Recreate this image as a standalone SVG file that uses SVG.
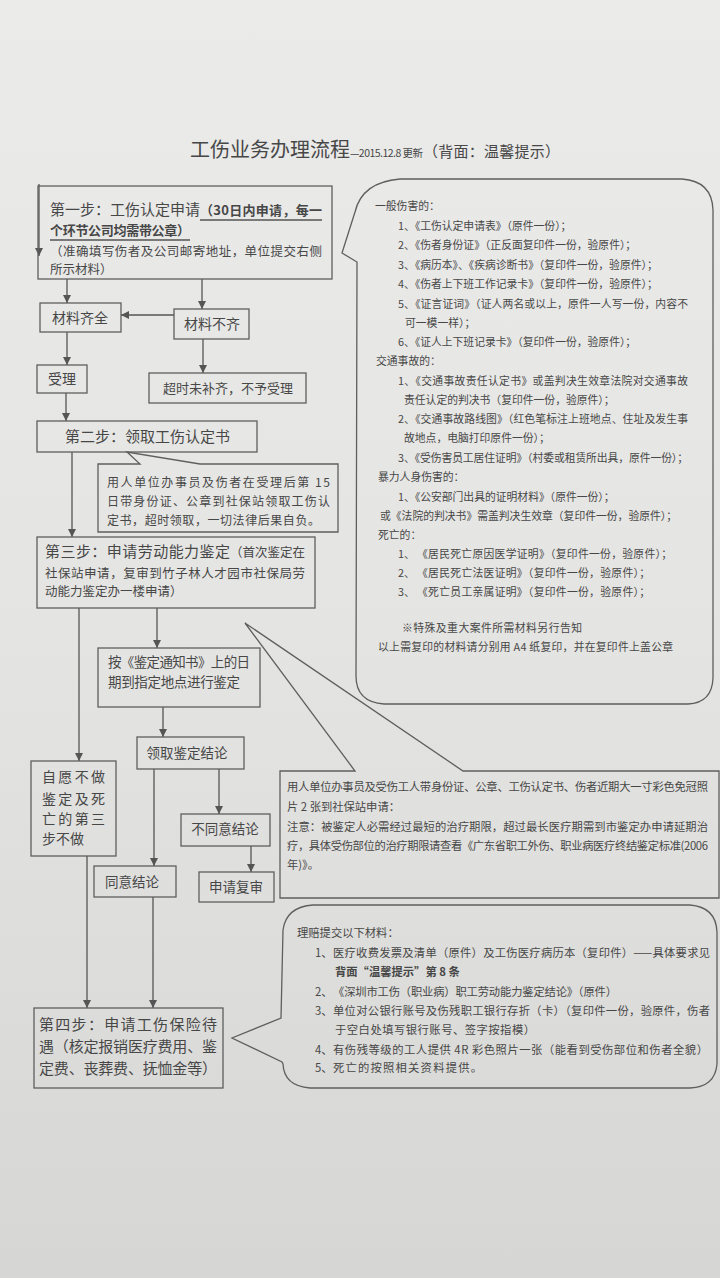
<svg xmlns="http://www.w3.org/2000/svg" width="720" height="1278" viewBox="0 0 720 1278">
<defs>
<linearGradient id="bg" x1="0" y1="0" x2="0" y2="1">
<stop offset="0" stop-color="#ebebea"/>
<stop offset="0.5" stop-color="#e4e4e2"/>
<stop offset="1" stop-color="#d6d6d4"/>
</linearGradient>
<marker id="ah" markerWidth="8" markerHeight="8" refX="8" refY="4" orient="auto" markerUnits="userSpaceOnUse">
<path d="M0,0 L8,4 L0,8 Z" fill="#555"/>
</marker>
<style>
.b{fill:none;stroke:#5f5f5f;stroke-width:1.3}
.c{fill:none;stroke:#555;stroke-width:1.3}
text{font-family:"Noto Sans CJK SC","Noto Sans",sans-serif;fill:#474747}
.t14{font-size:14px}
.t15{font-size:15px}
.t13{font-size:13px}
.s{font-size:10.8px}
.m{font-size:11.3px}
.u{font-weight:bold}
</style>
</defs>
<rect width="720" height="1278" fill="url(#bg)"/>

<g id="title">
<text x="190" y="157" style="font-size:20px" textLength="160">工伤业务办理流程</text>
<text x="350" y="157" style="font-size:10.5px" textLength="73">—2015.12.8 更新</text>
<text x="423" y="157" class="t15" textLength="137">（背面：温馨提示）</text>
</g>

<g id="connectors">
<line class="c" x1="39" y1="184" x2="39" y2="256" marker-end="url(#ah)"/>
<line class="c" x1="67" y1="279" x2="67" y2="303" marker-end="url(#ah)"/>
<line class="c" x1="202" y1="279" x2="202" y2="309" marker-end="url(#ah)"/>
<line class="c" x1="174" y1="315" x2="121" y2="315" marker-end="url(#ah)"/>
<line class="c" x1="67" y1="332" x2="67" y2="365" marker-end="url(#ah)"/>
<line class="c" x1="203" y1="339" x2="203" y2="373" marker-end="url(#ah)"/>
<line class="c" x1="66" y1="393" x2="66" y2="421" marker-end="url(#ah)"/>
<line class="c" x1="72" y1="452" x2="72" y2="537" marker-end="url(#ah)"/>
<line class="c" x1="79" y1="608" x2="79" y2="761" marker-end="url(#ah)"/>
<line class="c" x1="157" y1="608" x2="157" y2="648" marker-end="url(#ah)"/>
<line class="c" x1="163" y1="707" x2="163" y2="737" marker-end="url(#ah)"/>
<line class="c" x1="154" y1="769" x2="154" y2="866" marker-end="url(#ah)"/>
<line class="c" x1="219" y1="769" x2="219" y2="814" marker-end="url(#ah)"/>
<line class="c" x1="251" y1="846" x2="251" y2="872" marker-end="url(#ah)"/>
<line class="c" x1="87" y1="856" x2="87" y2="1008" marker-end="url(#ah)"/>
<line class="c" x1="153" y1="897" x2="153" y2="1008" marker-end="url(#ah)"/>
</g>

<g id="step1">
<rect class="b" x="38" y="186" width="294" height="93"/>
<text x="50" y="215" class="t15" textLength="150">第一步：工伤认定申请</text>
<text x="200" y="215" class="t13 u" textLength="122">（30日内申请，每一</text>
<line class="c" x1="200" y1="220" x2="322" y2="220"/>
<text x="50" y="235" class="t13 u" textLength="140">个环节公司均需带公章）</text>
<line class="c" x1="50" y1="240" x2="190" y2="240"/>
<text x="50" y="256" style="font-size:12.5px" textLength="272">（准确填写伤者及公司邮寄地址，单位提交右侧</text>
<text x="50" y="274" style="font-size:12.5px">所示材料）</text>
</g>

<g id="cailiao-qiquan">
<rect class="b" x="40" y="303" width="81" height="29"/>
<text x="80" y="323" class="t14" text-anchor="middle">材料齐全</text>
</g>
<g id="cailiao-buqi">
<rect class="b" x="174" y="309" width="75" height="30"/>
<text x="212" y="329" class="t14" text-anchor="middle">材料不齐</text>
</g>
<g id="shouli">
<rect class="b" x="37" y="365" width="50" height="28"/>
<text x="62" y="384" class="t14" text-anchor="middle">受理</text>
</g>
<g id="chaoshi">
<rect class="b" x="149" y="373" width="157" height="30"/>
<text x="228" y="393" class="t13" text-anchor="middle">超时未补齐，不予受理</text>
</g>

<g id="step2">
<rect class="b" x="37" y="421" width="220" height="31"/>
<text x="65" y="442" class="t15" textLength="165">第二步：领取工伤认定书</text>
</g>

<g id="step2-note">
<path class="b" d="M98,464 L140,464 L127,452 L200,464 L338,464 L338,532 L98,532 Z"/>
<text x="107" y="487" style="font-size:12px" textLength="223">用人单位办事员及伤者在受理后第 15</text>
<text x="107" y="506" style="font-size:12px" textLength="223">日带身份证、公章到社保站领取工伤认</text>
<text x="107" y="525" style="font-size:12px" textLength="213">定书，超时领取，一切法律后果自负。</text>
</g>

<g id="step3">
<rect class="b" x="37" y="537" width="278" height="71"/>
<text x="45" y="557" class="t15" textLength="185">第三步：申请劳动能力鉴定</text>
<text x="230" y="557" style="font-size:12.5px" textLength="75">（首次鉴定在</text>
<text x="45" y="578" style="font-size:12.5px" textLength="260">社保站申请，复审到竹子林人才园市社保局劳</text>
<text x="45" y="596" style="font-size:12.5px">动能力鉴定办一楼申请）</text>
</g>

<g id="jianding-tongzhi">
<rect class="b" x="98" y="648" width="162" height="59"/>
<text x="108" y="667" style="font-size:13.5px" textLength="142">按《鉴定通知书》上的日</text>
<text x="108" y="687" style="font-size:13.5px" textLength="132">期到指定地点进行鉴定</text>
</g>

<g id="lingqu-jielun">
<rect class="b" x="137" y="737" width="107" height="32"/>
<text x="187" y="758" style="font-size:13.5px" text-anchor="middle">领取鉴定结论</text>
</g>

<g id="ziyuan">
<rect class="b" x="31" y="761" width="85" height="95"/>
<text x="42" y="782" class="t14" textLength="63">自愿不做</text>
<text x="42" y="804" class="t14" textLength="63">鉴定及死</text>
<text x="42" y="824" class="t14" textLength="63">亡的第三</text>
<text x="42" y="844" class="t14">步不做</text>
</g>

<g id="butongyi">
<rect class="b" x="181" y="814" width="89" height="32"/>
<text x="225" y="834" style="font-size:13.5px" text-anchor="middle">不同意结论</text>
</g>
<g id="tongyi">
<rect class="b" x="94" y="866" width="82" height="31"/>
<text x="132" y="887" style="font-size:13.5px" text-anchor="middle">同意结论</text>
</g>
<g id="fushen">
<rect class="b" x="199" y="872" width="75" height="30"/>
<text x="236" y="892" style="font-size:13.5px" text-anchor="middle">申请复审</text>
</g>

<g id="step3-note">
<path class="b" d="M280,771 L355,771 L245,623 L463,771 L719,771 L719,898 L280,898 Z"/>
<text x="287" y="791" class="m" textLength="421">用人单位办事员及受伤工人带身份证、公章、工伤认定书、伤者近期大一寸彩色免冠照</text>
<text x="287" y="811" class="m">片 2 张到社保站申请：</text>
<text x="287" y="831" class="m" textLength="421">注意：被鉴定人必需经过最短的治疗期限，超过最长医疗期需到市鉴定办申请延期治</text>
<text x="287" y="850" class="m" textLength="421">疗，具体受伤部位的治疗期限请查看《广东省职工外伤、职业病医疗终结鉴定标准(2006</text>
<text x="287" y="869" class="m">年)》。</text>
</g>

<g id="step4">
<rect class="b" x="34" y="1008" width="189" height="80"/>
<text x="39" y="1030" class="t15" textLength="178">第四步：申请工伤保险待</text>
<text x="39" y="1052" class="t15" textLength="178">遇（核定报销医疗费用、鉴</text>
<text x="39" y="1074" class="t15" textLength="178">定费、丧葬费、抚恤金等）</text>
</g>

<g id="step4-note">
<path class="b" d="M313,905 L690,905 Q716,907 717,932 L717,1064 Q715,1087 690,1088 L310,1088 Q284,1086 283,1064 L282,1062 L232,1038 L281,1018 L283,930 Q286,907 313,905 Z"/>
<text x="297" y="937" class="m">理赔提交以下材料：</text>
<text x="315" y="957" class="m">1、</text>
<text x="333" y="957" class="m" textLength="377">医疗收费发票及清单（原件）及工伤医疗病历本（复印件）——具体要求见</text>
<text x="335" y="976" class="m u">背面“温馨提示”第 8 条</text>
<text x="315" y="996" class="m">2、</text>
<text x="333" y="996" class="m" textLength="284">《深圳市工伤（职业病）职工劳动能力鉴定结论》（原件）</text>
<text x="315" y="1015" class="m">3、</text>
<text x="333" y="1015" class="m" textLength="377">单位对公银行账号及伤残职工银行存折（卡）（复印件一份，验原件，伤者</text>
<text x="335" y="1034" class="m" textLength="200">于空白处填写银行账号、签字按指模）</text>
<text x="315" y="1054" class="m">4、</text>
<text x="333" y="1054" class="m" textLength="375">有伤残等级的工人提供 4R 彩色照片一张（能看到受伤部位和伤者全貌）</text>
<text x="315" y="1072" class="m">5、</text>
<text x="333" y="1072" class="m" textLength="149">死亡的按照相关资料提供。</text>
</g>

<g id="materials-panel">
<path class="b" d="M400,179 L682,179 Q712,181 713,210 L713,678 Q712,703 688,704 L384,704 Q356,702 356,676 L357,262 L342,253 L355,212 Q362,182 400,179 Z"/>
<text x="375" y="210" class="s">一般伤害的：</text>
<text x="398" y="230" class="s">1、《工伤认定申请表》（原件一份）；</text>
<text x="398" y="249" class="s">2、《伤者身份证》（正反面复印件一份，验原件）；</text>
<text x="398" y="269" class="s">3、《病历本》、《疾病诊断书》（复印件一份，验原件）；</text>
<text x="398" y="288" class="s">4、《伤者上下班工作记录卡》（复印件一份，验原件）；</text>
<text x="398" y="308" class="s" textLength="290">5、《证言证词》（证人两名或以上，原件一人写一份，内容不</text>
<text x="405" y="327" class="s">可一模一样）；</text>
<text x="398" y="346" class="s">6、《证人上下班记录卡》（复印件一份，验原件）；</text>
<text x="376" y="365" class="s">交通事故的：</text>
<text x="398" y="385" class="s" textLength="290">1、《交通事故责任认定书》或盖判决生效章法院对交通事故</text>
<text x="404" y="404" class="s">责任认定的判决书（复印件一份，验原件）；</text>
<text x="398" y="423" class="s" textLength="290">2、《交通事故路线图》（红色笔标注上班地点、住址及发生事</text>
<text x="404" y="442" class="s">故地点，电脑打印原件一份）；</text>
<text x="398" y="462" class="s" textLength="290">3、《受伤害员工居住证明》（村委或租赁所出具，原件一份）；</text>
<text x="378" y="481" class="s">暴力人身伤害的：</text>
<text x="398" y="501" class="s">1、《公安部门出具的证明材料》（原件一份）；</text>
<text x="380" y="520" class="s" textLength="297">或《法院的判决书》需盖判决生效章（复印件一份，验原件）；</text>
<text x="378" y="539" class="s">死亡的：</text>
<text x="398" y="558" class="s">1、</text>
<text x="417" y="558" class="s" textLength="255">《居民死亡原因医学证明》（复印件一份，验原件）；</text>
<text x="398" y="577" class="s">2、</text>
<text x="417" y="577" class="s" textLength="233">《居民死亡法医证明》（复印件一份，验原件）；</text>
<text x="398" y="596" class="s">3、</text>
<text x="417" y="596" class="s" textLength="233">《死亡员工亲属证明》（复印件一份，验原件）；</text>
<text x="402" y="632" class="s" textLength="180">※特殊及重大案件所需材料另行告知</text>
<text x="378" y="651" class="s" textLength="295">以上需复印的材料请分别用 A4 纸复印，并在复印件上盖公章</text>
</g>
</svg>
